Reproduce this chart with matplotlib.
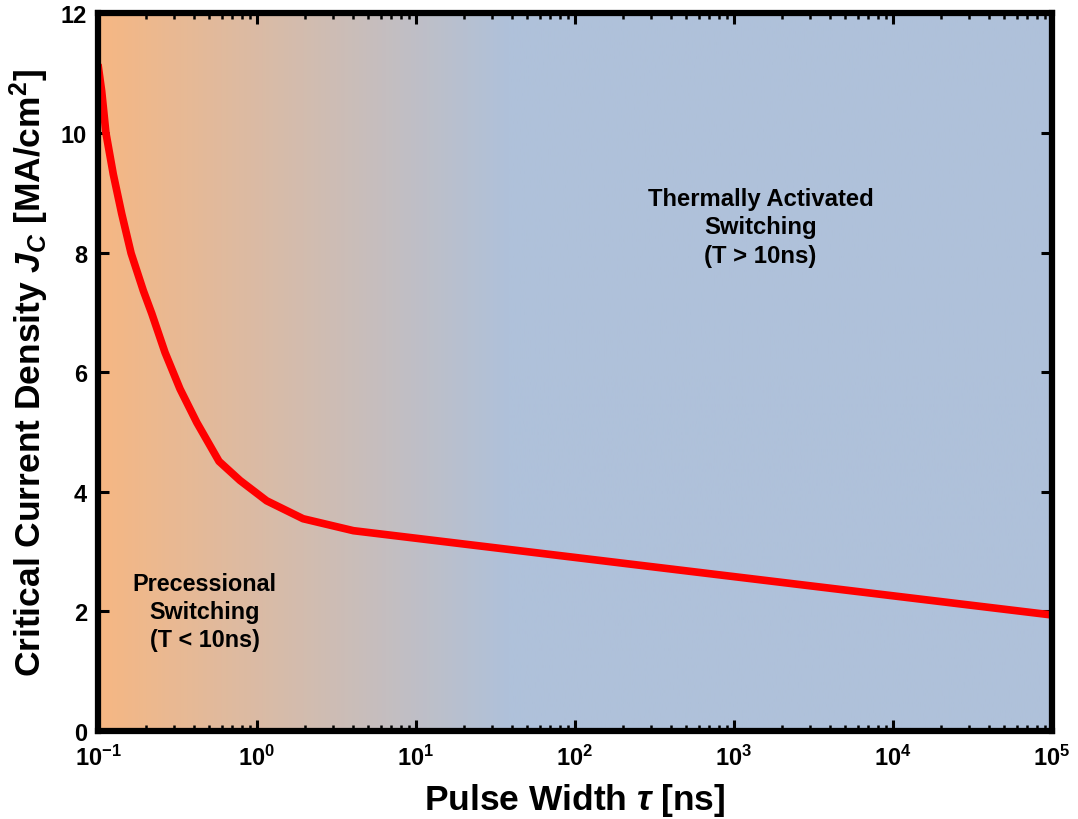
import numpy as np
import matplotlib
matplotlib.use('Agg')
import matplotlib.pyplot as plt
from matplotlib.colors import LinearSegmentedColormap
from matplotlib.ticker import LogLocator, FixedLocator, NullFormatter

plt.rcParams['font.family'] = ['Liberation Sans', 'DejaVu Sans']
plt.rcParams['font.weight'] = 'bold'
plt.rcParams['mathtext.fontset'] = 'custom'
plt.rcParams['mathtext.rm'] = 'Liberation Sans:bold'
plt.rcParams['mathtext.bf'] = 'Liberation Sans:bold'
plt.rcParams['mathtext.it'] = 'Liberation Sans:bold:italic'

# critical current density vs pulse width
tau = [0.1, 0.1055, 0.1122, 0.1248, 0.141, 0.1615, 0.193, 0.218, 0.264,
       0.328, 0.418, 0.577, 0.782, 1.15, 1.95, 4.04, 1e5]
jc = [11.15, 10.70, 10.0, 9.31, 8.65, 7.99, 7.36, 6.98, 6.33,
      5.72, 5.16, 4.51, 4.19, 3.85, 3.55, 3.35, 1.94]

x_decades = [-1, 0, 1, 2, 3, 4, 5]
y_ticks = [0, 2, 4, 6, 8, 10, 12]

fig = plt.figure(figsize=(10.78, 8.2), dpi=100)
ax = fig.add_axes([0.0909, 0.1073, 0.885, 0.8751])

# orange -> blue background gradient
cmap = LinearSegmentedColormap.from_list(
    'bg', [(0.0, '#F6B783'), (0.43, '#AFC1DA'), (1.0, '#AFC1DA')])
grad = np.linspace(0, 1, 512).reshape(1, -1)
ax.imshow(grad, cmap=cmap, aspect='auto', extent=[0, 1, 0, 1],
          transform=ax.transAxes, zorder=0)

ax.plot(tau, jc, color='#FF0000', lw=5.5, zorder=3, solid_capstyle='butt',
        solid_joinstyle='round')

ax.set_xscale('log')
ax.set_xlim(1e-1, 1e5)
ax.set_ylim(0, 12)

ax.xaxis.set_major_locator(FixedLocator([10.0 ** d for d in x_decades]))
ax.set_xticklabels([r'$10^{%d}$' % d for d in x_decades])
ax.xaxis.set_minor_locator(LogLocator(base=10, subs=np.arange(2, 10)))
ax.xaxis.set_minor_formatter(NullFormatter())
ax.set_yticks(y_ticks)
ax.set_yticklabels([str(v) for v in y_ticks])

ax.tick_params(which='both', direction='in', top=True, right=True,
               labelsize=17, pad=8)
ax.tick_params(which='major', length=8, width=2.2)
ax.tick_params(which='minor', length=4, width=1.8)
ax.tick_params(axis='x', which='major', pad=10)

for s in ax.spines.values():
    s.set_linewidth(4.5)
    s.set_zorder(5)

ax.set_xlabel(r'Pulse Width $\tau$ [ns]', fontsize=25.5, fontweight='bold', labelpad=8)
ax.set_ylabel(r'Critical Current Density $J_C$ [MA/cm$^2$]', fontsize=25.5,
              fontweight='bold', labelpad=7)

ax.text(0.468, 2.0, 'Precessional\nSwitching\n(T < 10ns)', ha='center',
        va='center', multialignment='center', fontsize=16.8, fontweight='bold',
        linespacing=1.3, zorder=4)
ax.text(1470, 8.43, 'Thermally Activated\nSwitching\n(T > 10ns)', ha='center',
        va='center', multialignment='center', fontsize=17.2, fontweight='bold',
        linespacing=1.3, zorder=4)

fig.savefig('out.png', dpi=100)
